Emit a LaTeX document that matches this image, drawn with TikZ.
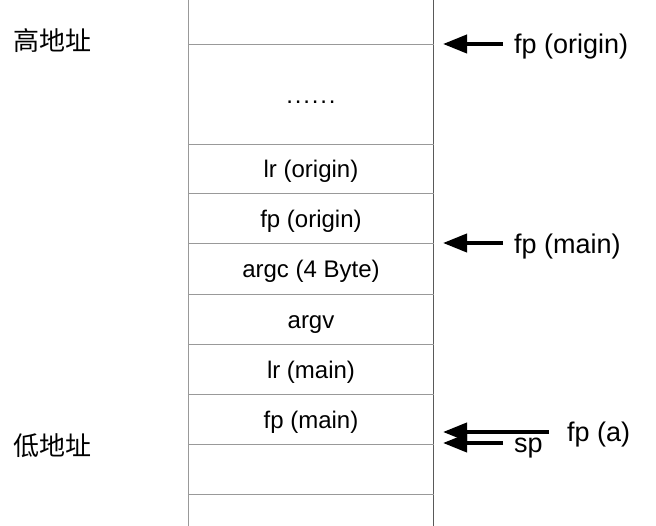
\documentclass[tikz,border=0pt]{standalone}
\usepackage{fontspec}
\setmainfont{Liberation Sans}
\newfontfamily\cjk{Noto Sans CJK SC}
\usetikzlibrary{arrows.meta}
\begin{document}
\begin{tikzpicture}[x=1pt,y=-1pt,
  sep/.style={draw=black!40,line width=1pt},
  cell/.style={font=\fontsize{24}{28}\selectfont,inner sep=0pt,anchor=base},
  lbl/.style={font=\fontsize{27}{30}\selectfont,inner sep=0pt,anchor=base west},
  side/.style={font=\cjk\fontsize{26}{30}\selectfont,inner sep=0pt,anchor=west},
  ptr/.style={line width=4pt,-{Triangle[length=24pt,width=18pt]}}]
\useasboundingbox (0,0) rectangle (656,526);
% vertical edges
\coordinate (lt) at (188.5,0); \coordinate (lb) at (188.5,526);
\coordinate (rt) at (433.5,0); \coordinate (rb) at (433.5,526);
\draw[draw=black!40,line width=1pt] (lt) -- (lb);
\draw[draw=black!65,line width=1pt] (rt) -- (rb);
% separators
\foreach \y/\n in {44.5/s0,144.5/s1,193.5/s2,243.5/s3,294.5/s4,344.5/s5,394.5/s6,444.5/s7,494.5/s8}{
  \coordinate (\n a) at (188.5,\y); \coordinate (\n b) at (433.5,\y);
  \draw[sep] (\n a) -- (\n b);
}
% cell texts
\node[cell] (c0) at (311,104) {.\kern1.8pt.\kern1.8pt.\kern1.8pt.\kern1.8pt.\kern1.8pt.};
\node[cell] (c1) at (311,177.5) {lr (origin)};
\node[cell] (c2) at (311,227.5) {fp (origin)};
\node[cell] (c3) at (311,278) {argc (4 Byte)};
\node[cell] (c4) at (311,328.5) {argv};
\node[cell] (c5) at (311,378.5) {lr (main)};
\node[cell] (c6) at (311,428.5) {fp (main)};
% side labels
\node[side] (hi) at (13,41) {高地址};
\node[side] (lo) at (13,446) {低地址};
% pointer labels
\node[lbl] (fpo) at (514,54) {fp (origin)};
\node[lbl] (fpm) at (514,254) {fp (main)};
\node[lbl] (fpa) at (567,441) {fp (a)};
\node[lbl] (sp) at (514,453) {sp};
% arrow endpoints
\coordinate (t0) at (443,44); \coordinate (f0) at (503,44);
\coordinate (t1) at (443,243); \coordinate (f1) at (503,243);
\coordinate (t2) at (443,432); \coordinate (f2) at (549,432);
\coordinate (t3) at (443,443); \coordinate (f3) at (503,443);
\draw[ptr] (f0) -- (t0);
\draw[ptr] (f1) -- (t1);
\draw[ptr] (f2) -- (t2);
\draw[ptr] (f3) -- (t3);
\end{tikzpicture}
\end{document}
